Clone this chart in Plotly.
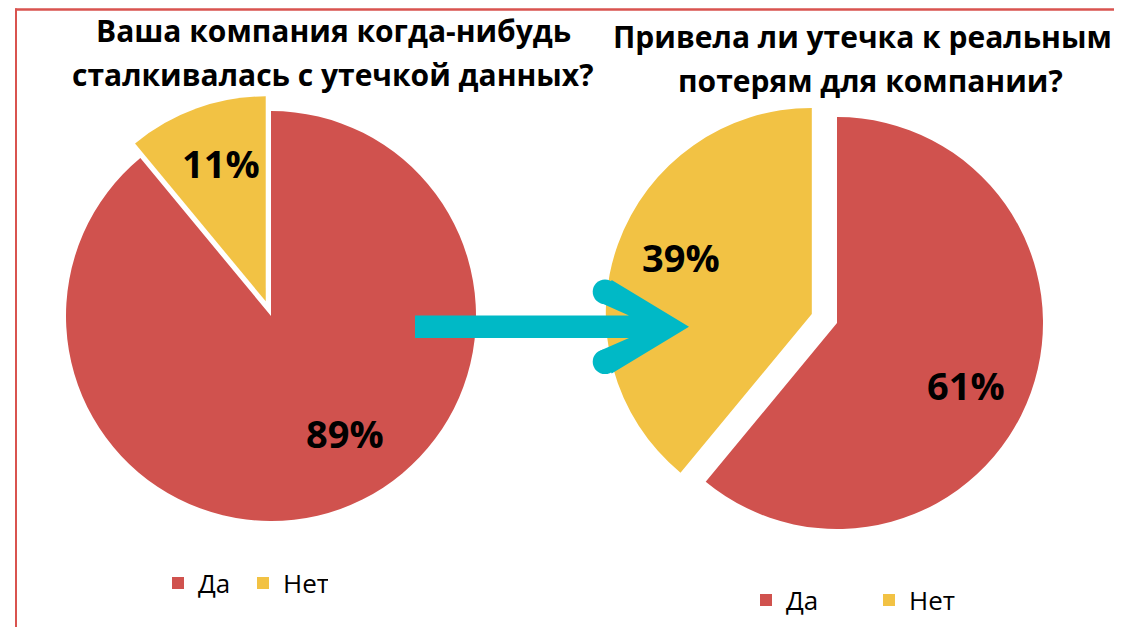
import math
import plotly.graph_objects as go

# ---------------- data ----------------
labels = ["Да", "Нет"]
values_left = [89, 11]
values_right = [61, 39]
title_left = ["Ваша компания когда-нибудь", "сталкивалась с утечкой данных?"]
title_right = ["Привела ли утечка к реальным", "потерям для компании?"]

# ---------------- style ----------------
OFF = 8                      # page body margin
W, H = 1122 - OFF, 628 - OFF  # figure size
RED = "#D0524E"
YELLOW = "#F2C244"
CYAN = "#00B9C6"
BORDER = "#D9534F"
FONT = "Open Sans"

LEFT_C, LEFT_R, LEFT_PULL = (271, 316), 205, [0, 0.076]
RIGHT_C, RIGHT_R, RIGHT_PULL = (837, 323), 206, [0, 0.13]
LABEL_RF = 0.70
LABEL_NUDGE_LEFT = [(25, -18), (4, -3)]
LABEL_NUDGE_RIGHT = [(-7, 13), (5, -8)]


def px(x):  # page pixel -> paper fraction
    return (x - OFF) / W


def py(y):
    return 1 - (y - OFF) / H


def domain(c, r, pull):
    half = r * (1 + max(pull))
    return dict(x=[px(c[0] - half), px(c[0] + half)],
                y=[py(c[1] + half), py(c[1] - half)])


fig = go.Figure()
fig.add_trace(go.Pie(
    labels=labels, values=values_left, sort=False, direction="clockwise",
    rotation=0, pull=LEFT_PULL, textinfo="none", hoverinfo="label+percent",
    marker=dict(colors=[RED, YELLOW]), domain=domain(LEFT_C, LEFT_R, LEFT_PULL),
    legend="legend",
))
# trailing space keeps the second pie's legend entries separate from the first
fig.add_trace(go.Pie(
    labels=[l + "\u00a0" for l in labels], values=values_right, sort=False,
    direction="clockwise", rotation=0, pull=RIGHT_PULL, textinfo="none",
    hoverinfo="label+percent",
    marker=dict(colors=[RED, YELLOW]), domain=domain(RIGHT_C, RIGHT_R, RIGHT_PULL),
    legend="legend2",
))

annotations = []


def add_labels(vals, c, r, pull, nudges):
    total = sum(vals)
    cum = 0
    for v, p, (nx, ny) in zip(vals, pull, nudges):
        mid = 2 * math.pi * (cum + v / 2) / total
        cum += v
        ux, uy = math.sin(mid), -math.cos(mid)
        cx = c[0] + p * r * ux
        cy = c[1] + p * r * uy
        lx = cx + LABEL_RF * r * ux + nx
        ly = cy + LABEL_RF * r * uy + ny
        annotations.append(dict(
            x=px(lx), y=py(ly), xref="paper", yref="paper", showarrow=False,
            text=f"{v}%", xanchor="center", yanchor="middle",
            font=dict(family=FONT, size=38, color="black", weight="bold"),
        ))


add_labels(values_left, LEFT_C, LEFT_R, LEFT_PULL, LABEL_NUDGE_LEFT)
add_labels(values_right, RIGHT_C, RIGHT_R, RIGHT_PULL, LABEL_NUDGE_RIGHT)

for lines, cxs, ys in [(title_left, [333, 333], [30, 75]),
                       (title_right, [862, 870], [36, 81])]:
    for t, cx, yy in zip(lines, cxs, ys):
        annotations.append(dict(
            x=px(cx), y=py(yy), xref="paper", yref="paper", showarrow=False,
            text=t, xanchor="center", yanchor="middle",
            font=dict(family=FONT, size=30, color="black", weight="bold"),
        ))

# arrow (decorative)
pts = [(415, 315.5), (629, 315.5), (600.4, 302.8), (611.7, 280), (689, 326.7),
       (611.7, 373.4), (600.4, 350.6), (629, 337.9), (415, 337.9)]
path = "M " + " L ".join(f"{px(x):.5f},{py(y):.5f}" for x, y in pts) + " Z"
shapes = [
    dict(type="path", path=path, xref="paper", yref="paper",
         fillcolor=CYAN, line=dict(width=0)),
]
for ccx, ccy in [(605, 291.7), (605, 361.7)]:
    rr = 12.3
    shapes.append(dict(type="circle", xref="paper", yref="paper",
                       x0=px(ccx - rr), x1=px(ccx + rr), y0=py(ccy + rr), y1=py(ccy - rr),
                       fillcolor=CYAN, line=dict(width=0)))
# frame lines
shapes.append(dict(type="line", xref="paper", yref="paper", x0=px(15), x1=px(1121),
                   y0=py(9.5), y1=py(9.5), line=dict(color=BORDER, width=2.5)))
shapes.append(dict(type="line", xref="paper", yref="paper", x0=px(16), x1=px(16),
                   y0=py(8.5), y1=py(627), line=dict(color=BORDER, width=2)))

fig.update_layout(
    width=W, height=H,
    margin=dict(l=0, r=0, t=0, b=0),
    paper_bgcolor="white", plot_bgcolor="white",
    annotations=annotations, shapes=shapes,
    showlegend=True,
    legend=dict(orientation="h", x=px(158), y=py(583), xanchor="left", yanchor="middle",
                font=dict(family=FONT, size=26, color="black"), bgcolor="rgba(0,0,0,0)",
                entrywidth=40, traceorder="normal"),
    legend2=dict(orientation="h", x=px(746), y=py(600), xanchor="left", yanchor="middle",
                 font=dict(family=FONT, size=26, color="black"), bgcolor="rgba(0,0,0,0)",
                 entrywidth=78, traceorder="normal"),
)

fig.write_html("out.html")
